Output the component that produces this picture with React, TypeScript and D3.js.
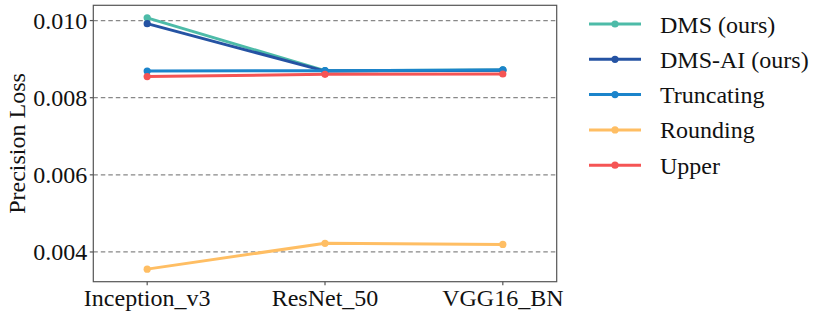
import React from "react";
import * as d3 from "d3";

const categories = ["Inception_v3", "ResNet_50", "VGG16_BN"];
const dms = [0.01007, 0.0087, 0.00872];
const dmsAi = [0.00992, 0.00869, 0.00871];
const truncating = [0.00869, 0.0087, 0.00872];
const rounding = [0.003555, 0.004225, 0.004195];
const upper = [0.008547, 0.008607, 0.008615];
const yTicks = [0.004, 0.006, 0.008, 0.01];

const series = [
  { name: "DMS (ours)", values: dms, color: "#4dbba8" },
  { name: "DMS-AI (ours)", values: dmsAi, color: "#2553a3" },
  { name: "Truncating", values: truncating, color: "#1b84cb" },
  { name: "Rounding", values: rounding, color: "#ffbe63" },
  { name: "Upper", values: upper, color: "#f55454" },
];

const W = 830;
const H = 317;
const plot = { left: 93.3, right: 556.7, top: 5.3, bottom: 281.7 };
const txt = { fontFamily: "Liberation Serif", fontSize: 24, fill: "#111" };

export default function App() {
  const all = series.flatMap((s) => s.values);
  const [lo, hi] = d3.extent(all) as [number, number];
  const pad = (hi - lo) * 0.05;

  const x = d3
    .scalePoint<string>()
    .domain(categories)
    .range([plot.left, plot.right])
    .padding(0.303);
  const y = d3
    .scaleLinear()
    .domain([lo - pad, hi + pad])
    .range([plot.bottom, plot.top]);

  const line = d3
    .line<number>()
    .x((_, i) => x(categories[i])!)
    .y((d) => y(d));

  return (
    <svg
      width={W}
      height={H}
      style={{ position: "fixed", left: 0, top: 0, background: "#fff" }}
    >
      {/* grid */}
      {yTicks.map((t) => (
        <line
          key={t}
          x1={plot.left}
          x2={plot.right}
          y1={y(t)}
          y2={y(t)}
          stroke="#888"
          strokeWidth={1.2}
          strokeDasharray="4.5,3"
        />
      ))}

      {/* lines + markers */}
      {series.map((s) => (
        <g key={s.name}>
          <path d={line(s.values)!} fill="none" stroke={s.color} strokeWidth={3} />
          {s.values.map((v, i) => (
            <circle key={i} cx={x(categories[i])} cy={y(v)} r={3.6} fill={s.color} />
          ))}
        </g>
      ))}

      {/* frame */}
      <rect
        x={plot.left}
        y={plot.top}
        width={plot.right - plot.left}
        height={plot.bottom - plot.top}
        fill="none"
        stroke="#555"
        strokeWidth={1.2}
      />

      {/* y axis */}
      {yTicks.map((t) => (
        <g key={t}>
          <line x1={plot.left - 3.5} x2={plot.left} y1={y(t)} y2={y(t)} stroke="#555" strokeWidth={1.2} />
          <text x={plot.left - 6} y={y(t) + 8.5} textAnchor="end" style={txt}>
            {d3.format(".3f")(t)}
          </text>
        </g>
      ))}
      <text
        transform={`translate(25,${(plot.top + plot.bottom) / 2}) rotate(-90)`}
        textAnchor="middle"
        style={txt}
      >
        Precision Loss
      </text>

      {/* x axis */}
      {categories.map((c) => (
        <g key={c}>
          <line x1={x(c)} x2={x(c)} y1={plot.bottom} y2={plot.bottom + 3.5} stroke="#555" strokeWidth={1.2} />
          <text x={x(c)} y={306} textAnchor="middle" style={txt}>
            {c}
          </text>
        </g>
      ))}

      {/* legend */}
      {series.map((s, i) => {
        const ly = 24 + i * 35.3;
        return (
          <g key={s.name}>
            <line x1={589} x2={641} y1={ly} y2={ly} stroke={s.color} strokeWidth={3} />
            <circle cx={615} cy={ly} r={3.6} fill={s.color} />
            <text x={660} y={ly + 8.5} style={txt}>
              {s.name}
            </text>
          </g>
        );
      })}
    </svg>
  );
}
